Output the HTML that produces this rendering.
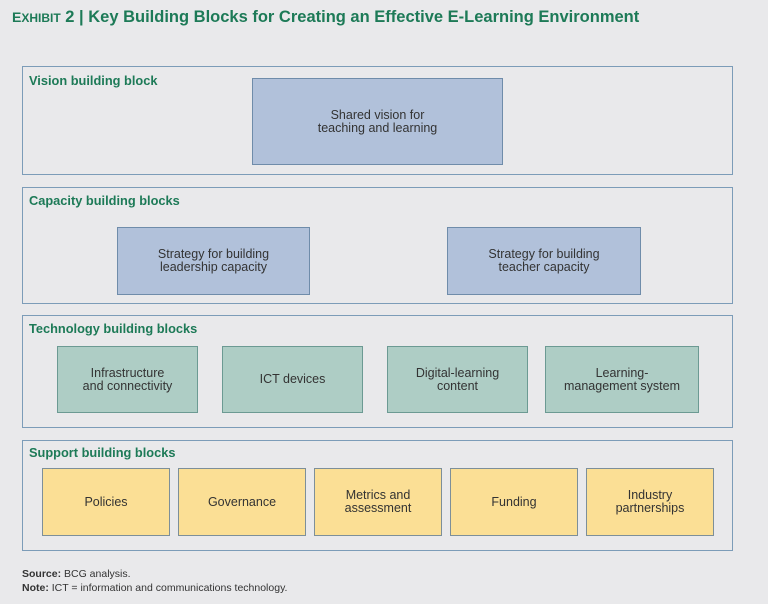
<!DOCTYPE html>
<html><head><style>
body{margin:0;width:768px;height:604px;background:#e9e9eb;font-family:"Liberation Sans",sans-serif;position:relative;overflow:hidden}
.a{position:absolute}
.t{left:12px;top:8px;font-size:16.5px;font-weight:bold;color:#1d7a57;white-space:nowrap}
.f{border:1.5px solid #7c9cb8;box-sizing:border-box}
.l{font-size:12.8px;font-weight:bold;color:#1d7a57;white-space:nowrap}
.b{box-sizing:border-box;display:flex;align-items:center;justify-content:center;text-align:center;font-size:12.5px;line-height:13px;color:#333}
.v{background:#b1c1da;border:1.5px solid #6f8caa}
.g{background:#aecdc5;border:1.5px solid #6c9a93}
.y{background:#fbdf95;border:1.5px solid #7d8f99}
.n{font-size:10.5px;color:#333;left:22px}
</style></head><body>
<div class="a t"><span style="font-size:14px">E</span><span style="font-size:12px">XHIBIT</span> 2 | Key Building Blocks for Creating an Effective E-Learning Environment</div>

<div class="a f" style="left:22px;top:66px;width:711px;height:109px"></div>
<div class="a l" style="left:29px;top:73px">Vision building block</div>
<div class="a b v" style="left:252px;top:78px;width:251px;height:87px">Shared vision for<br>teaching and learning</div>

<div class="a f" style="left:22px;top:187px;width:711px;height:117px"></div>
<div class="a l" style="left:29px;top:193px">Capacity building blocks</div>
<div class="a b v" style="left:117px;top:227px;width:193px;height:68px">Strategy for building<br>leadership capacity</div>
<div class="a b v" style="left:447px;top:227px;width:194px;height:68px">Strategy for building<br>teacher capacity</div>

<div class="a f" style="left:22px;top:315px;width:711px;height:113px"></div>
<div class="a l" style="left:29px;top:321px">Technology building blocks</div>
<div class="a b g" style="left:57px;top:346px;width:141px;height:67px">Infrastructure<br>and connectivity</div>
<div class="a b g" style="left:222px;top:346px;width:141px;height:67px">ICT devices</div>
<div class="a b g" style="left:387px;top:346px;width:141px;height:67px">Digital-learning<br>content</div>
<div class="a b g" style="left:545px;top:346px;width:154px;height:67px">Learning-<br>management system</div>

<div class="a f" style="left:22px;top:440px;width:711px;height:111px"></div>
<div class="a l" style="left:29px;top:445px">Support building blocks</div>
<div class="a b y" style="left:42px;top:468px;width:128px;height:68px">Policies</div>
<div class="a b y" style="left:178px;top:468px;width:128px;height:68px">Governance</div>
<div class="a b y" style="left:314px;top:468px;width:128px;height:68px">Metrics and<br>assessment</div>
<div class="a b y" style="left:450px;top:468px;width:128px;height:68px">Funding</div>
<div class="a b y" style="left:586px;top:468px;width:128px;height:68px">Industry<br>partnerships</div>

<div class="a n" style="top:568px"><b>Source:</b> BCG analysis.</div>
<div class="a n" style="top:582px"><b>Note:</b> ICT = information and communications technology.</div>
</body></html>
